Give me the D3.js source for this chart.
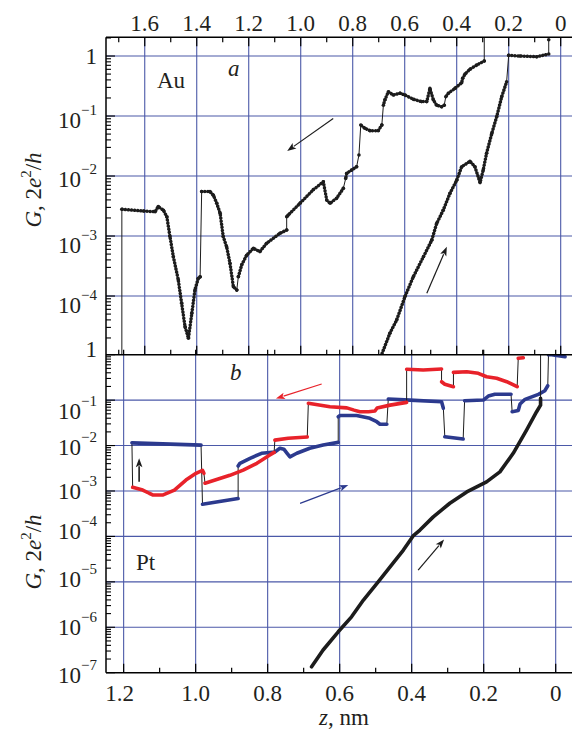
<!DOCTYPE html>
<html><head><meta charset="utf-8">
<script src="https://cdn.jsdelivr.net/npm/d3@7/dist/d3.min.js"></script>
<style>html,body{margin:0;padding:0;background:#fff}svg{display:block}</style>
</head><body>
<svg id="c" width="572" height="731"></svg>
<script>
// ---------------- DATA ----------------
// Panel a (Au): z in nm, log10(G / (2e^2/h))
const auRetractZ = [0.294,0.294,0.323,0.349,0.368,0.377,0.381,0.407,0.432,0.442,0.448,0.458,0.477,0.49,0.503,0.515,0.535,0.567,0.599,0.618,0.644,0.663,0.676,0.682,0.688,0.702,0.733,0.753,0.769,0.776,0.785,0.804,0.823,0.827,0.836,0.862,0.887,0.90,0.913,0.952,1.003,1.048,1.054,1.054,1.08,1.131,1.157,1.182,1.208,1.227,1.24,1.246,1.259,1.272,1.285,1.298,1.31,1.323,1.336,1.349,1.381,1.387,1.394,1.407,1.419,1.432,1.445,1.458,1.471,1.49,1.503,1.515,1.528,1.548,1.56,1.605,1.688,1.688];
const auRetractLogG = [0.40,-0.083,-0.15,-0.22,-0.30,-0.37,-0.445,-0.54,-0.62,-0.68,-0.82,-0.845,-0.82,-0.73,-0.54,-0.76,-0.76,-0.72,-0.65,-0.62,-0.65,-0.595,-0.73,-0.82,-1.15,-1.245,-1.245,-1.205,-1.15,-1.65,-1.845,-1.90,-1.955,-2.04,-2.205,-2.37,-2.455,-2.40,-2.095,-2.23,-2.455,-2.65,-2.68,-2.90,-2.955,-3.12,-3.26,-3.205,-3.32,-3.48,-3.68,-3.90,-3.845,-3.455,-3.18,-3.01,-2.62,-2.455,-2.32,-2.26,-2.26,-3.68,-3.705,-3.90,-4.29,-4.705,-4.51,-4.12,-3.73,-3.345,-3.01,-2.68,-2.57,-2.51,-2.595,-2.583,-2.555,-5.5];
const auApproachZ = [0.70,0.657,0.631,0.599,0.567,0.528,0.496,0.477,0.452,0.426,0.40,0.381,0.349,0.33,0.31,0.298,0.285,0.265,0.246,0.227,0.208,0.20,0.157,0.092,0.046,0.046];
const auApproachLogG = [-5.1,-4.62,-4.40,-4.01,-3.68,-3.345,-3.07,-2.79,-2.57,-2.29,-2.07,-1.845,-1.755,-1.845,-2.11,-1.90,-1.62,-1.29,-1.01,-0.68,-0.43,0.012,0.0,-0.012,0.033,0.27];

// Panel b (Pt)
const ptApproachZ = [0.678,0.646,0.604,0.567,0.534,0.493,0.46,0.423,0.396,0.377,0.34,0.294,0.247,0.192,0.155,0.118,0.081,0.053,0.042,0.042,0.042];
const ptApproachLogG = [-6.87,-6.50,-6.10,-5.77,-5.40,-5.00,-4.67,-4.30,-3.99,-3.86,-3.57,-3.27,-3.02,-2.80,-2.58,-2.17,-1.66,-1.255,-1.11,-0.96,0.3];
const ptRedZ = [0.09,0.104,0.107,0.136,0.164,0.192,0.215,0.247,0.284,0.284,0.308,0.317,0.317,0.368,0.414,0.414,0.46,0.496,0.502,0.52,0.544,0.56,0.58,0.627,0.687,0.69,0.743,0.78,0.782,0.794,0.83,0.868,0.905,0.974,0.977,0.981,0.999,1.027,1.043,1.059,1.092,1.118,1.129,1.147,1.175];
const ptRedLogG = [-0.066,-0.08,-0.705,-0.595,-0.52,-0.485,-0.41,-0.375,-0.39,-0.705,-0.65,-0.595,-0.315,-0.337,-0.32,-1.05,-1.11,-1.174,-1.24,-1.255,-1.255,-1.22,-1.17,-1.145,-1.07,-1.81,-1.84,-1.88,-2.15,-2.21,-2.39,-2.54,-2.655,-2.83,-2.61,-2.545,-2.61,-2.76,-2.87,-2.98,-3.09,-3.09,-3.05,-2.98,-2.92];
const ptBlueZ = [1.177,0.985,0.981,0.882,0.882,0.877,0.849,0.817,0.78,0.766,0.755,0.746,0.738,0.719,0.683,0.646,0.604,0.604,0.599,0.553,0.516,0.497,0.488,0.469,0.465,0.405,0.317,0.312,0.308,0.257,0.253,0.201,0.187,0.169,0.124,0.121,0.104,0.099,0.085,0.048,0.03,0.022,0.02,0.016,-0.026];
const ptBlueLogG = [-1.94,-1.99,-3.29,-3.165,-2.45,-2.39,-2.28,-2.17,-2.14,-2.06,-2.08,-2.17,-2.25,-2.17,-2.06,-1.99,-1.93,-1.366,-1.34,-1.34,-1.40,-1.475,-1.53,-1.53,-0.976,-1.0,-1.035,-1.18,-1.806,-1.857,-1.013,-0.998,-0.91,-0.872,-0.872,-1.255,-1.23,-1.086,-0.982,-0.872,-0.793,-0.683,0,0.005,-0.045];

// Ticks
const topXTicks = [1.6,1.4,1.2,1.0,0.8,0.6,0.4,0.2,0];
const topXLabels = ["1.6","1.4","1.2","1.0","0.8","0.6","0.4","0.2","0"];
const topXMinor = [1.7,1.5,1.3,1.1,0.9,0.7,0.5,0.3,0.1];
const botXTicks = [1.2,1.0,0.8,0.6,0.4,0.2,0];
const botXLabels = ["1.2","1.0","0.8","0.6","0.4","0.2","0"];
const botXMinor = [1.1,0.9,0.7,0.5,0.3,0.1];
const topYExp = [0,-1,-2,-3,-4];
const botYExp = [0,-1,-2,-3,-4,-5,-6,-7];

// Arrows [z1, logG1, z2, logG2]
const auArrows = [[0.875,-1.04,1.052,-1.583],[0.515,-3.955,0.438,-3.18]];
const ptArrowsZ1 = [0.65,0.71,1.157,0.382];
const ptArrowsG1 = [-0.645,-3.273,-2.797,-4.742];
const ptArrowsZ2 = [0.777,0.576,1.157,0.31];
const ptArrowsG2 = [-0.965,-2.87,-2.28,-4.066];
const ptArrowColors = ["red","blue","black","black"];

// ---------------- LAYOUT ----------------
const L=106, R=572, T=37.3, M=354.7, B=672.7;
const COL = {red:"#e8222a", blue:"#2c3a8e", black:"#1c1c1c", grid:"#4b59a8", text:"#231f20"};
const FONT = "'Liberation Serif','Times New Roman',serif";
const yNudgeTop = {"0":0.7,"-1":4,"-2":3,"-3":9,"-4":9};
const yNudgeBot = {"0":-5,"-1":11,"-2":1.5,"-3":0,"-4":-5,"-5":-2.7,"-6":0,"-7":2.3};

const svg = d3.select("#c");
const xTop = d3.scaleLinear().domain([1.749,-0.0435]).range([L,R]);
const yTop = d3.scaleLog().domain([Math.pow(10,-4.978),Math.pow(10,0.312)]).range([M,T]);
const xBot = d3.scaleLinear().domain([1.249,-0.0453]).range([L,R]);
const yBot = d3.scaleLog().domain([1e-7,1]).range([B,M]);

const defs = svg.append("defs");
defs.append("clipPath").attr("id","clipTop").append("rect").attr("x",L).attr("y",T).attr("width",R-L).attr("height",M-T);
defs.append("clipPath").attr("id","clipBot").append("rect").attr("x",L).attr("y",M).attr("width",R-L).attr("height",B-M);

// Grid
function grid(x,y,xt,exps,top,bot,clip){
  const g = svg.append("g").attr("clip-path",`url(#${clip})`).attr("stroke",COL.grid).attr("stroke-width",1.1).attr("fill","none");
  xt.forEach(v=>g.append("line").attr("x1",x(v)).attr("x2",x(v)).attr("y1",top).attr("y2",bot));
  exps.forEach(e=>{const yy=y(Math.pow(10,e)); g.append("line").attr("x1",L).attr("x2",R).attr("y1",yy).attr("y2",yy);});
}
grid(xTop,yTop,topXTicks,topYExp,T,M,"clipTop");
grid(xBot,yBot,botXTicks,botYExp.filter(e=>e<0),M,B,"clipBot");

// Series helpers
function toPix(x,y,zs,ls){return zs.map((z,i)=>[x(z),y(Math.pow(10,ls[i]))]);}
function split(px){
  const segs=[],jumps=[];let cur=[px[0]];
  for(let i=1;i<px.length;i++){
    const a=px[i-1],b=px[i];
    if(Math.abs(b[0]-a[0])<2.5 && Math.abs(b[1]-a[1])>8){jumps.push([a,b]);segs.push(cur);cur=[b];}
    else cur.push(b);
  }
  segs.push(cur);return {segs,jumps};
}
const line = d3.line();
function drawDotted(g,px){
  const {segs}=split(px);
  g.append("path").attr("d",line(px)).attr("fill","none").attr("stroke",COL.black).attr("stroke-width",1);
  segs.forEach(s=>{
    if(s.length>1) g.append("path").attr("d",line(s)).attr("fill","none").attr("stroke",COL.black)
      .attr("stroke-width",3.5).attr("stroke-linecap","round").attr("stroke-dasharray","0.01 3.1");
  });
  px.forEach(p=>g.append("circle").attr("cx",p[0]).attr("cy",p[1]).attr("r",1.8).attr("fill",COL.black));
}
function drawThick(g,px,color){
  const {segs,jumps}=split(px);
  jumps.forEach(j=>g.append("line").attr("x1",j[0][0]).attr("y1",j[0][1]).attr("x2",j[1][0]).attr("y2",j[1][1])
    .attr("stroke",COL.black).attr("stroke-width",1));
  segs.forEach(s=>{
    if(s.length>1) g.append("path").attr("d",line(s)).attr("fill","none").attr("stroke",color)
      .attr("stroke-width",3.6).attr("stroke-linecap","round").attr("stroke-linejoin","round");
    else g.append("circle").attr("cx",s[0][0]).attr("cy",s[0][1]).attr("r",2.1).attr("fill",color);
  });
}

// Panel a data
const gA = svg.append("g").attr("clip-path","url(#clipTop)");
drawDotted(gA,toPix(xTop,yTop,auApproachZ,auApproachLogG));
drawDotted(gA,toPix(xTop,yTop,auRetractZ,auRetractLogG));

// Panel b data
const gB = svg.append("g").attr("clip-path","url(#clipBot)");
const redPx = toPix(xBot,yBot,ptRedZ,ptRedLogG), bluePx = toPix(xBot,yBot,ptBlueZ,ptBlueLogG);
gB.append("line").attr("x1",redPx[redPx.length-1][0]).attr("y1",redPx[redPx.length-1][1])
  .attr("x2",bluePx[0][0]).attr("y2",bluePx[0][1]).attr("stroke",COL.black).attr("stroke-width",1);
drawThick(gB,bluePx,COL.blue);
drawThick(gB,redPx,COL.red);
drawThick(gB,toPix(xBot,yBot,ptApproachZ,ptApproachLogG),COL.black);

// Arrows
function arrow(x1,y1,x2,y2,color,w){
  const dx=x2-x1,dy=y2-y1,len=Math.hypot(dx,dy),ux=dx/len,uy=dy/len;
  const hl=9,hw=3.3,bx=x2-ux*hl,by=y2-uy*hl;
  svg.append("line").attr("x1",x1).attr("y1",y1).attr("x2",bx+ux*1).attr("y2",by+uy*1).attr("stroke",color).attr("stroke-width",w);
  svg.append("path").attr("d",`M${x2},${y2}L${bx-uy*hw},${by+ux*hw}L${bx+ux*2},${by+uy*2}L${bx+uy*hw},${by-ux*hw}Z`).attr("fill",color);
}
auArrows.forEach(a=>arrow(xTop(a[0]),yTop(Math.pow(10,a[1])),xTop(a[2]),yTop(Math.pow(10,a[3])),COL.black,1.2));
ptArrowsZ1.forEach((z,i)=>arrow(xBot(z),yBot(Math.pow(10,ptArrowsG1[i])),xBot(ptArrowsZ2[i]),yBot(Math.pow(10,ptArrowsG2[i])),COL[ptArrowColors[i]],ptArrowColors[i]==="black"&&i===2?1.6:1.2));

// Axes frame
const ax = svg.append("g").attr("stroke","#000").attr("fill","none");
ax.append("line").attr("x1",L).attr("x2",R).attr("y1",T).attr("y2",T).attr("stroke-width",1.5);
ax.append("line").attr("x1",L).attr("x2",R).attr("y1",M).attr("y2",M).attr("stroke-width",1.5);
ax.append("line").attr("x1",L).attr("x2",R).attr("y1",B).attr("y2",B).attr("stroke-width",1.5);
ax.append("line").attr("x1",L).attr("x2",L).attr("y1",T).attr("y2",B).attr("stroke-width",1.5);

// X ticks
function xticks(x,vals,y0,dir,len){vals.forEach(v=>ax.append("line").attr("x1",x(v)).attr("x2",x(v)).attr("y1",y0).attr("y2",y0+dir*len).attr("stroke-width",1.2));}
xticks(xTop,topXTicks,T,1,9); xticks(xTop,topXMinor,T,1,5);
xticks(xTop,topXTicks,M,-1,9); xticks(xTop,topXMinor,M,-1,5);
xticks(xBot,botXTicks,B,-1,9); xticks(xBot,botXMinor,B,-1,5);
xticks(xBot,botXTicks,M,-1,5);

// Y ticks (log)
function yticks(y,lo,hi){
  const [d0,d1]=y.domain();
  for(let e=lo;e<=hi;e++){
    for(let k=1;k<=9;k++){
      const v=k*Math.pow(10,e); if(v<d0*0.999||v>d1*1.001) continue;
      const yy=y(v); ax.append("line").attr("x1",L).attr("x2",L+(k===1?9:5)).attr("y1",yy).attr("y2",yy).attr("stroke-width",1.1);
    }
  }
}
yticks(yTop,-5,0); yticks(yBot,-7,0);

// Labels
const tx = svg.append("g").attr("fill",COL.text).attr("font-family",FONT);
topXTicks.forEach((v,i)=>tx.append("text").attr("x",xTop(v)).attr("y",30.5).attr("text-anchor","middle").attr("font-size",23).text(topXLabels[i]));
botXTicks.forEach((v,i)=>tx.append("text").attr("x",xBot(v)-(i===0?4:0)).attr("y",701).attr("text-anchor","middle").attr("font-size",23).text(botXLabels[i]));
function ylabels(y,exps,nudge){
  exps.forEach(e=>{
    const yy=y(Math.pow(10,e))+nudge[String(e)]+7.6;
    const t=tx.append("text").attr("x",97).attr("y",yy).attr("text-anchor","end").attr("font-size",23);
    if(e===0){t.text("1");}
    else{t.append("tspan").text("10");t.append("tspan").attr("dy",-13).attr("font-size",15).text("\u2212"+(-e));}
  });
}
ylabels(yTop,topYExp,yNudgeTop);
ylabels(yBot,botYExp,yNudgeBot);

function ytitle(cy){
  const t=tx.append("text").attr("transform",`translate(41,${cy}) rotate(-90)`).attr("text-anchor","middle").attr("font-size",23);
  t.append("tspan").attr("font-style","italic").text("G");
  t.append("tspan").text(", 2");
  t.append("tspan").attr("font-style","italic").text("e");
  t.append("tspan").attr("dy",-10).attr("font-size",15).text("2");
  t.append("tspan").attr("dy",10).text("/");
  t.append("tspan").attr("font-style","italic").text("h");
}
ytitle(190); ytitle(552);

const xt = tx.append("text").attr("x",344).attr("y",725).attr("text-anchor","middle").attr("font-size",23);
xt.append("tspan").attr("font-style","italic").text("z");
xt.append("tspan").text(", nm");

tx.append("text").attr("x",157).attr("y",88).attr("font-size",23).text("Au");
tx.append("text").attr("x",228).attr("y",76).attr("font-size",23).attr("font-style","italic").text("a");
tx.append("text").attr("x",230).attr("y",380).attr("font-size",23).attr("font-style","italic").text("b");
tx.append("text").attr("x",136).attr("y",570).attr("font-size",23).text("Pt");
</script>
</body></html>
